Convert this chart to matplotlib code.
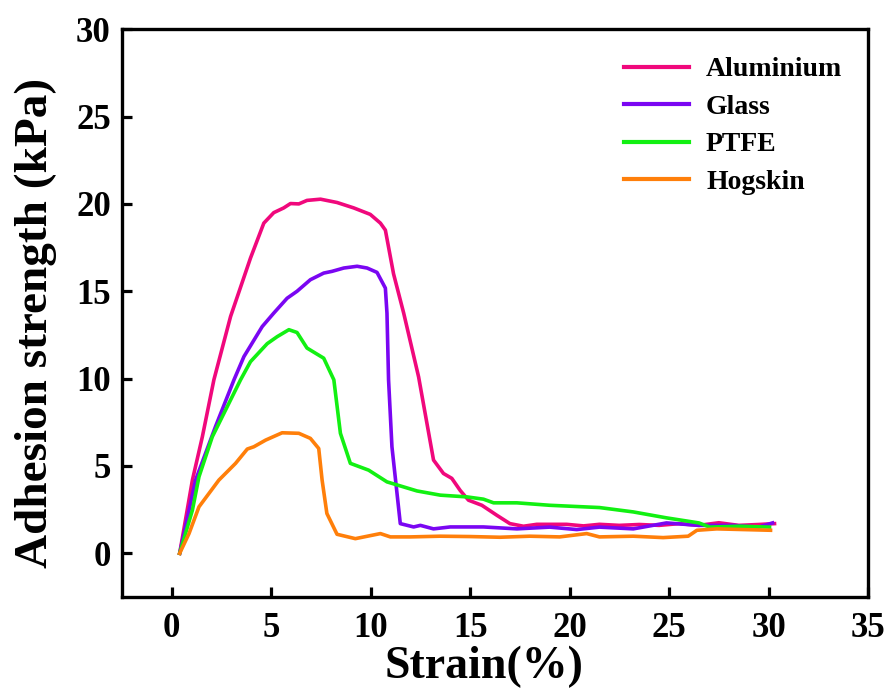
import matplotlib
matplotlib.use("Agg")
import matplotlib.pyplot as plt

# ---- data ----
labels = ["Aluminium", "Glass", "PTFE", "Hogskin"]
colors = ["#F0087C", "#7A06F2", "#12F012", "#FF7F0A"]

al_x = [0.4, 1.04, 1.54, 2.12, 2.96, 3.96, 4.63, 5.13, 5.63, 5.97, 6.39, 6.8, 7.48, 8.31, 9.15, 9.98,
        10.49, 10.74, 11.15, 11.66, 12.41, 13.16, 13.66, 14.08, 14.5, 14.92, 15.59, 16.34, 17.0, 17.68,
        18.35, 19.85, 20.7, 21.5, 22.5, 23.5, 24.5, 25.5, 26.5, 27.5, 28.5, 29.5, 30.3]
al_y = [0, 4.19, 6.67, 9.93, 13.56, 16.9, 18.9, 19.5, 19.77, 20.02, 20.0, 20.2, 20.27, 20.08, 19.77, 19.4,
        18.9, 18.5, 16.0, 13.75, 10.1, 5.34, 4.57, 4.29, 3.6, 3.04, 2.75, 2.18, 1.7, 1.55,
        1.66, 1.66, 1.57, 1.66, 1.6, 1.65, 1.6, 1.7, 1.6, 1.75, 1.6, 1.65, 1.7]

gl_x = [0.4, 1.2, 1.7, 2.2, 3.13, 3.63, 4.55, 5.13, 5.8, 6.3, 6.97, 7.64, 8.06, 8.65, 9.32, 9.82, 10.32,
        10.74, 10.82, 10.9, 11.07, 11.49, 12.16, 12.5, 13.16, 14.0, 15.67, 17.35, 19.0, 20.36, 21.5,
        23.2, 24.87, 26.5, 28.2, 29.5, 30.2]
gl_y = [0, 4.19, 5.72, 7.25, 9.93, 11.26, 12.98, 13.75, 14.6, 15.0, 15.66, 16.04, 16.14, 16.33, 16.43, 16.33, 16.08,
        15.18, 13.75, 9.93, 6.1, 1.7, 1.51, 1.6, 1.4, 1.51, 1.51, 1.4, 1.5, 1.36, 1.5,
        1.4, 1.74, 1.6, 1.6, 1.5, 1.74]

pt_x = [0.4, 1.04, 1.37, 2.04, 3.46, 3.96, 4.8, 5.3, 5.89, 6.3, 6.8, 7.64, 8.15, 8.48, 8.98, 9.9, 10.82,
        11.66, 12.33, 13.5, 14.84, 15.67, 16.18, 17.35, 19.0, 21.5, 23.2, 24.87, 26.5, 27.05, 28.55, 30.05]
pt_y = [0, 2.47, 4.38, 6.67, 9.93, 10.97, 12.0, 12.4, 12.8, 12.64, 11.75, 11.17, 9.93, 6.87, 5.15, 4.76, 4.09,
        3.8, 3.57, 3.33, 3.23, 3.1, 2.89, 2.89, 2.75, 2.62, 2.37, 2.03, 1.74, 1.5, 1.55, 1.5]

hs_x = [0.4, 0.87, 1.37, 2.37, 3.21, 3.8, 4.13, 4.72, 5.55, 6.39, 6.97, 7.39, 7.56, 7.8, 8.31, 9.23, 10.49,
        10.99, 12.0, 13.5, 15.0, 16.5, 18.0, 19.5, 20.86, 21.5, 23.2, 24.7, 25.96, 26.4, 27.4, 30.1]
hs_y = [0, 1.13, 2.66, 4.19, 5.15, 5.97, 6.1, 6.48, 6.9, 6.87, 6.58, 6.0, 4.19, 2.28, 1.09, 0.84, 1.13,
        0.94, 0.94, 0.98, 0.96, 0.92, 0.98, 0.94, 1.13, 0.94, 0.98, 0.9, 0.98, 1.32, 1.4, 1.32]

xticks = [0, 5, 10, 15, 20, 25, 30, 35]
yticks = [0, 5, 10, 15, 20, 25, 30]

# ---- plot ----
plt.rcParams['font.family'] = ['Liberation Serif', 'DejaVu Serif']
plt.rcParams['font.weight'] = 'bold'

fig = plt.figure(figsize=(8.89, 6.95), dpi=100)
ax = fig.add_axes([0.1372, 0.141, 0.8392, 0.817])

series = [(al_x, al_y), (gl_x, gl_y), (pt_x, pt_y), (hs_x, hs_y)]
for (xs, ys), lab, c in zip(series, labels, colors):
    ax.plot(xs, ys, color=c, lw=2.6, label=lab, solid_joinstyle='round')

ax.set_xlim(-2.5, 35)
ax.set_ylim(-2.5, 30)
ax.set_xticks(xticks)
ax.set_yticks(yticks)
ax.tick_params(direction='in', length=7, width=2.3, labelsize=25, top=False, right=False)
ax.tick_params(axis='x', pad=11)
ax.tick_params(axis='y', pad=8)
for lab in ax.get_xticklabels() + ax.get_yticklabels():
    lab.set_fontweight('bold')
for s in ax.spines.values():
    s.set_linewidth(2.4)

ax.set_xlabel('Strain(%)', fontsize=33, fontweight='bold', labelpad=0)
ax.set_ylabel('Adhesion strength (kPa)', fontsize=34, fontweight='bold', labelpad=14)
ax.xaxis.label.set_x(0.485)
ax.yaxis.label.set_y(0.482)

leg = ax.legend(loc='upper right', frameon=False, prop={'weight': 'bold', 'size': 20},
                handlelength=2.35, labelspacing=0.43, handletextpad=0.6,
                bbox_to_anchor=(0.999, 0.995))
for h in leg.get_lines():
    h.set_linewidth(3.0)

fig.savefig('out.png', dpi=100)
